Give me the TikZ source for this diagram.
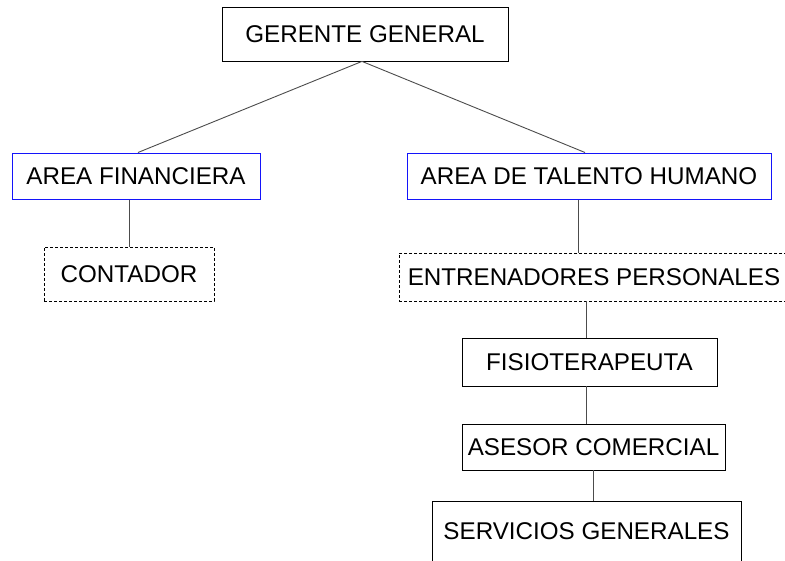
\documentclass[tikz,border=0pt]{standalone}
\usepackage{fontspec}
\setmainfont{Liberation Sans}
\usetikzlibrary{positioning}
\definecolor{areablue}{RGB}{20,20,250}

\begin{document}
\begin{tikzpicture}[x=1pt, y=-1pt, every node/.style={font=\fontsize{24.2}{27}\selectfont, inner sep=0pt},
  puesto/.style={draw, line width=0.8pt, rectangle},
  area/.style={rectangle, draw=areablue, line width=1pt},
  apoyo/.style={puesto, dashed, dash pattern=on 3pt off 2pt},
  link/.style={draw=black!70, line width=0.9pt}]
\clip (0,0) rectangle (785,560);
\fill[white] (0,0) rectangle (785,560);
\node[puesto, minimum width=286, minimum height=54] (ger) at (365,34) {GERENTE GENERAL};
\node[area, minimum width=248, minimum height=46] (fin) at (136,176) {AREA FINANCIERA};
\node[area, minimum width=364, minimum height=46] (tal) at (589,176) {AREA DE TALENTO HUMANO};
\node[apoyo, minimum width=170, minimum height=54] (cont) at (129,274) {CONTADOR};
\node[apoyo, minimum width=390, minimum height=48] (ent) at (594,277) {ENTRENADORES PERSONALES};
\node[puesto, minimum width=255, minimum height=48] (fis) at (589.5,362) {FISIOTERAPEUTA};
\node[puesto, minimum width=263, minimum height=46] (ase) at (593.5,447) {ASESOR COMERCIAL};
\node[puesto, minimum width=309, minimum height=64] (serv) at (586.5,533) {\raisebox{4pt}{SERVICIOS GENERALES}};
\draw[link] ([xshift=-3]ger.south) -- ([xshift=2]fin.north);
\draw[link] ([xshift=-3]ger.south) -- ([xshift=-4]tal.north);
\draw[link] (fin.south -| cont.north) -- (cont.north);
\draw[link] ([xshift=-11]tal.south) -- ([xshift=-11]tal.south |- ent.north);
\draw[link] ([xshift=-3]fis.north |- ent.south) -- ([xshift=-3]fis.north);
\draw[link] ([xshift=-3]fis.south) -- ([xshift=-3]fis.south |- ase.north);
\draw[link] (ase.south) -- (ase.south |- serv.north);
\end{tikzpicture}
\end{document}
